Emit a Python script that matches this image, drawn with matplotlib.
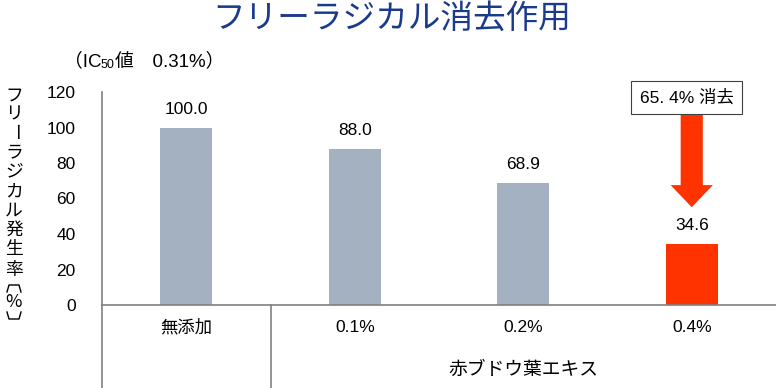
import matplotlib
matplotlib.use("Agg")
import matplotlib.pyplot as plt
from matplotlib.lines import Line2D
from matplotlib.patches import FancyArrowPatch
from matplotlib.transforms import blended_transform_factory

plt.rcParams['font.family'] = ['Liberation Sans', 'Noto Sans CJK JP', 'DejaVu Sans']

categories = ['無添加', '0.1%', '0.2%', '0.4%']
values = [100.0, 88.0, 68.9, 34.6]
value_labels = ['100.0', '88.0', '68.9', '34.6']
yticks = [0, 20, 40, 60, 80, 100, 120]
group_label = '赤ブドウ葉エキス'
title = 'フリーラジカル消去作用'
ylabel_chars = ['フ', 'リ', 'ー', 'ラ', 'ジ', 'カ', 'ル', '発', '生', '率', '%']
reduction_text = '65. 4% 消去'

W, H = 776, 388
fig = plt.figure(figsize=(W / 100, H / 100), dpi=100)

def fx(px):
    return px / W

def fy(py):
    return 1 - py / H

ax = fig.add_axes([fx(102), fy(305), fx(776) - fx(102), fy(92) - fy(305)])

gray = '#A3B1C0'
red = '#FF3300'
colors = [gray, gray, gray, red]
xs = list(range(len(categories)))
ax.bar(xs, values, width=0.31, color=colors, zorder=2)
ax.set_xlim(-0.5, 3.5)
ax.set_ylim(0, 120)
ax.set_yticks(yticks)
ax.set_yticklabels([str(t) for t in yticks], fontsize=12.5)
ax.tick_params(axis='y', length=0, pad=19)
ax.set_xticks([])

for s in ['top', 'right']:
    ax.spines[s].set_visible(False)
ax.spines['left'].set_color('#808080')
ax.spines['bottom'].set_color('#808080')
ax.spines['left'].set_linewidth(1.2)
ax.spines['bottom'].set_linewidth(1.2)

for x, v, lab in zip(xs, values, value_labels):
    ax.text(x, v + 6, lab, ha='center', va='bottom', fontsize=12.5)

# category table below axis
tr = blended_transform_factory(ax.transData, ax.transAxes)
bottom = -(H - 305) / (305 - 92)
ax.plot([-0.5, -0.5], [0, bottom], transform=tr, color='#808080', lw=1.2, clip_on=False)
ax.plot([0.5, 0.5], [0, bottom], transform=tr, color='#808080', lw=1.2, clip_on=False)
trf = blended_transform_factory(ax.transData, fig.transFigure)
for x, c in zip(xs, categories):
    ax.text(x, fy(327), c, transform=trf, ha='center', va='center', fontsize=12.5)
ax.text(2, fy(370), group_label, transform=trf, ha='center', va='center', fontsize=13.5)

# reduction arrow and box
arrow = FancyArrowPatch((3, 109.5), (3, 53.5),
                        arrowstyle='simple,head_width=2.1,head_length=1.1,tail_width=1.1',
                        mutation_scale=14.5, color=red, lw=0, zorder=3)
ax.add_patch(arrow)
ax.text(2.97, 117.0, reduction_text, ha='center', va='center', fontsize=12.5,
        bbox=dict(boxstyle='square,pad=0.5', fc='white', ec='#404040', lw=0.8), zorder=4)

# title
fig.text(fx(392), fy(19), title, ha='center', va='center', fontsize=23.5,
         color='#1A3A8C', family=['Noto Sans CJK JP'])

# IC50 note
fig.text(fx(64), fy(61), '（IC', ha='left', va='center', fontsize=13.5)
fig.text(fx(101), fy(65), '50', ha='left', va='center', fontsize=9)
fig.text(fx(115), fy(61), '値　0.31%）', ha='left', va='center', fontsize=13.5)

# vertical y label
ycent = [96, 114, 132, 152, 171, 192, 211, 230, 249, 270, 302]
for ch, py in zip(ylabel_chars, ycent):
    rot = -90 if ch == 'ー' else 0
    fig.text(fx(14), fy(py), ch, ha='center', va='center', fontsize=12.8,
             rotation=rot, rotation_mode='anchor', family=['Noto Sans CJK JP'])

# vertical brackets around %
for pts in ([(7, 292), (9, 285), (19, 285), (21, 292)],
            [(7, 312), (9, 319), (19, 319), (21, 312)]):
    fig.add_artist(Line2D([fx(p[0]) for p in pts], [fy(p[1]) for p in pts],
                          transform=fig.transFigure, color='black', lw=1.0))

fig.savefig('out.png', dpi=100)
